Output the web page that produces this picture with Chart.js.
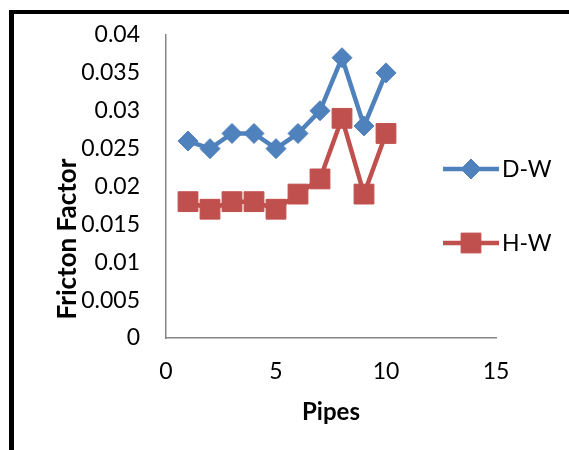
<!DOCTYPE html>
<html>
<head>
<meta charset="utf-8">
<script src="https://cdn.jsdelivr.net/npm/chart.js@4/dist/chart.umd.min.js"></script>
<style>
  html, body { margin: 0; padding: 0; background: #fff; overflow: hidden; }
  #frame { position: absolute; left: 9px; top: 10px; width: 600px; height: 500px;
           border-left: 5px solid #000; border-top: 4px solid #000; }
  #chart { position: absolute; left: 0; top: 0; }
</style>
</head>
<body>
<div id="frame"></div>
<canvas id="chart" width="569" height="450"></canvas>
<script>
const pipes = [1, 2, 3, 4, 5, 6, 7, 8, 9, 10];
const dwValues = [0.026, 0.025, 0.027, 0.027, 0.025, 0.027, 0.030, 0.037, 0.028, 0.035];
const hwValues = [0.018, 0.017, 0.018, 0.018, 0.017, 0.019, 0.021, 0.029, 0.019, 0.027];
const xTicks = [0, 5, 10, 15];
const yTicks = [0, 0.005, 0.01, 0.015, 0.02, 0.025, 0.03, 0.035, 0.04];

const blue = "#4f81bd";
const red = "#c0504d";
const axisGray = "#868686";

Chart.defaults.font.family = "Lato, 'Open Sans', sans-serif";
Chart.defaults.color = "#000";

function toPoints(values) {
  return pipes.map((p, i) => ({ x: p, y: values[i] }));
}

// legend drawn Excel style: line with marker through it
const lineLegend = {
  id: "lineLegend",
  afterDraw(chart) {
    const ctx = chart.ctx;
    const rows = [169, 243];
    chart.data.datasets.forEach((ds, i) => {
      const y = rows[i];
      ctx.save();
      ctx.strokeStyle = ds.borderColor;
      ctx.lineWidth = ds.borderWidth;
      ctx.beginPath();
      ctx.moveTo(443, y);
      ctx.lineTo(499, y);
      ctx.stroke();
      ctx.fillStyle = ds.pointBackgroundColor;
      ctx.strokeStyle = ds.pointBorderColor;
      ctx.lineWidth = 1;
      Chart.helpers.drawPoint(ctx, { pointStyle: ds.pointStyle, radius: ds.pointRadius, borderWidth: 1 }, 471, y);
      ctx.fillStyle = "#000";
      ctx.font = "23px Lato, 'Open Sans', sans-serif";
      ctx.textAlign = "left";
      ctx.textBaseline = "middle";
      ctx.fillText(ds.label, 502, y + 1);
      ctx.restore();
    });
  },
};

// y title sits below the axis middle, as in the original
const yTitle = {
  id: "yTitle",
  afterDraw(chart) {
    const ctx = chart.ctx;
    ctx.save();
    ctx.translate(68, 239);
    ctx.rotate(-Math.PI / 2);
    ctx.font = "bold 26px Lato, 'Open Sans', sans-serif";
    ctx.fillStyle = "#000";
    ctx.textAlign = "center";
    ctx.textBaseline = "middle";
    ctx.fillText("Fricton Factor", 0, 0);
    ctx.restore();
  },
};

new Chart(document.getElementById("chart"), {
  type: "scatter",
  data: {
    datasets: [
      {
        label: "D-W",
        data: toPoints(dwValues),
        showLine: true,
        borderColor: blue,
        backgroundColor: blue,
        pointBackgroundColor: blue,
        pointBorderColor: blue,
        borderWidth: 4.5,
        pointStyle: "rectRot",
        pointRadius: 10,
        pointBorderWidth: 1,
        tension: 0,
      },
      {
        label: "H-W",
        data: toPoints(hwValues),
        showLine: true,
        borderColor: red,
        backgroundColor: red,
        pointBackgroundColor: red,
        pointBorderColor: red,
        borderWidth: 4.5,
        pointStyle: "rect",
        pointRadius: 14,
        pointBorderWidth: 1,
        tension: 0,
      },
    ],
  },
  options: {
    responsive: false,
    animation: false,
    layout: { padding: { left: 0, right: 73, top: 35, bottom: 0 } },
    plugins: {
      legend: { display: false },
      tooltip: { enabled: false },
    },
    scales: {
      x: {
        type: "linear",
        min: 0,
        max: 15,
        afterBuildTicks: (axis) => { axis.ticks = xTicks.map((v) => ({ value: v })); },
        afterFit: (axis) => { axis.height = 112; },
        grid: { drawOnChartArea: false, drawTicks: false },
        border: { color: axisGray, width: 1.5 },
        ticks: { padding: 20, font: { size: 23 }, color: "#000" },
        title: {
          display: true,
          text: "Pipes",
          font: { size: 24, weight: "bold" },
          padding: { top: 0, bottom: 23 },
          color: "#000",
        },
      },
      y: {
        type: "linear",
        min: 0,
        max: 0.04,
        afterBuildTicks: (axis) => { axis.ticks = yTicks.map((v) => ({ value: v })); },
        afterFit: (axis) => { axis.width = 166; },
        grid: { drawOnChartArea: false, drawTicks: false },
        border: { color: axisGray, width: 1.5 },
        ticks: {
          padding: 26,
          font: { size: 23, lineHeight: 0.6 },
          color: "#000",
          callback: (v) => String(+v.toFixed(3)),
        },
      },
    },
  },
  plugins: [lineLegend, yTitle],
});
</script>
</body>
</html>
